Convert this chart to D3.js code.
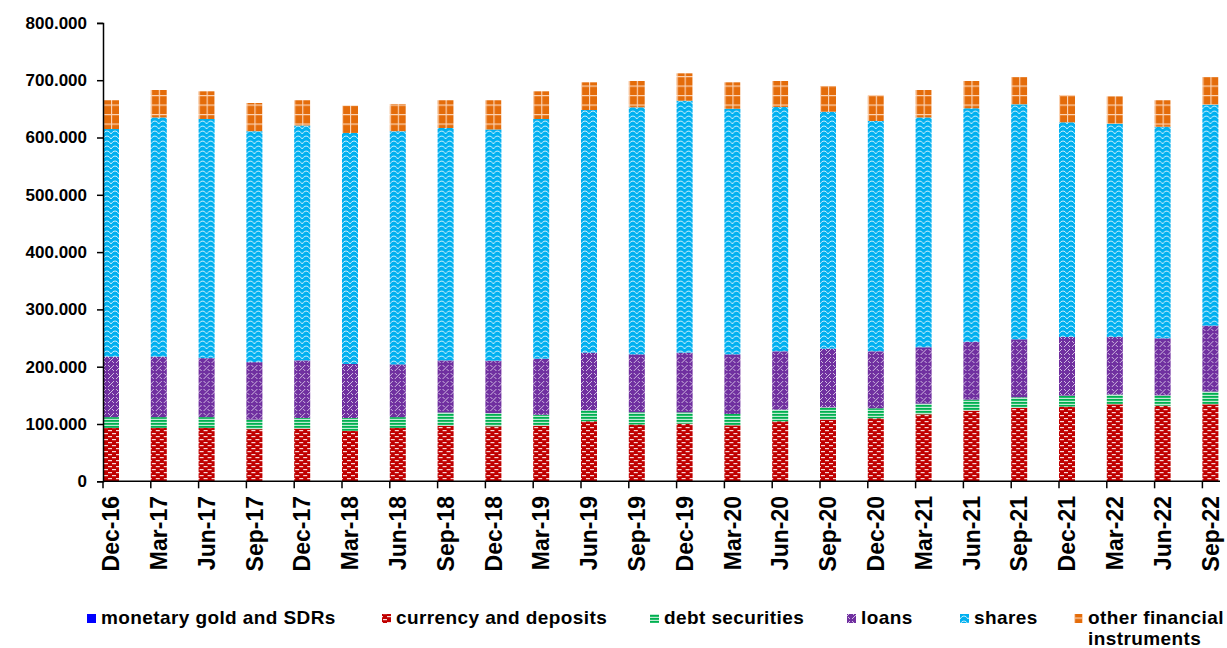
<!DOCTYPE html>
<html>
<head>
<meta charset="utf-8">
<script src="https://cdn.jsdelivr.net/npm/d3@7"></script>
<style>
  body { margin: 0; background: #fff; }
  text { font-family: "Liberation Sans", Arial, sans-serif; font-weight: bold; fill: #000; }
</style>
</head>
<body>
<svg width="1227" height="648"></svg>
<script>
// quarters on the x axis
var periods = ['Dec-16','Mar-17','Jun-17','Sep-17','Dec-17','Mar-18','Jun-18','Sep-18','Dec-18','Mar-19',
  'Jun-19','Sep-19','Dec-19','Mar-20','Jun-20','Sep-20','Dec-20','Mar-21','Jun-21','Sep-21',
  'Dec-21','Mar-22','Jun-22','Sep-22'];

// series values
var monetaryGold = [0,0,0,0,0,0,0,0,0,0,0,0,0,0,0,0,0,0,0,0,0,0,0,0];
var currency = [93000,93000,93000,91000,92000,88000,93000,97000,96000,97000,104700,99000,
  100600,97700,104700,107600,110000,117000,123300,128000,130300,134400,132000,134400];
var debt = [19000,19000,19000,16600,18500,22500,19000,23000,23000,19000,19300,21500,
  19800,19800,20300,21400,17400,18500,19200,18600,19200,16900,18000,22100];
var loans = [105500,105500,103000,100400,100500,94200,92000,91000,91500,98000,100600,101100,
  104100,104100,101900,102500,99500,98400,100700,101200,102400,100600,99600,115200];
var shares = [397300,417500,417300,403000,410000,403300,407000,405600,403500,418300,423400,431100,
  439700,428700,426300,413500,401900,401100,407800,410100,374600,372100,369200,385600];
var other = [50200,47900,48300,49200,44000,47500,47500,48400,51000,48300,48300,45900,
  47800,46000,45400,44900,45400,47900,47600,47700,47700,47900,46200,48300];

var seriesKeys = ['gold','currency','debt','loans','shares','other'];
var seriesNames = ['monetary gold and SDRs','currency and deposits','debt securities','loans','shares','other financial|instruments'];
var yTicks = [0,100000,200000,300000,400000,500000,600000,700000,800000];

function main() {
  var svg = d3.select('svg');
  var defs = svg.append('defs');

  // fill patterns, roughly like the office hatches
  function pattern(id, w, h, bg) {
    var p = defs.append('pattern').attr('id', id)
      .attr('patternUnits', 'userSpaceOnUse')
      .attr('width', w).attr('height', h);
    p.append('rect').attr('width', w).attr('height', h).attr('fill', bg);
    return p;
  }
  pattern('p-gold', 4, 4, '#0000ff');

  var pc = pattern('p-currency', 8, 6, '#c00000');
  pc.append('rect').attr('x', 1).attr('y', 1).attr('width', 4).attr('height', 1.2).attr('fill', '#fff').attr('opacity', 0.85);
  pc.append('rect').attr('x', 5).attr('y', 4).attr('width', 4).attr('height', 1.2).attr('fill', '#fff').attr('opacity', 0.85);
  pc.append('rect').attr('x', -3).attr('y', 4).attr('width', 4).attr('height', 1.2).attr('fill', '#fff').attr('opacity', 0.85);

  var pd = pattern('p-debt', 4, 3, '#00b050');
  pd.append('rect').attr('y', 1.8).attr('width', 4).attr('height', 1.2).attr('fill', '#fff').attr('opacity', 0.75);

  var pl = pattern('p-loans', 8, 8, '#7030a0');
  pl.append('path').attr('d', 'M0,8L3,5M5,3L8,0M1,1L3,3M5,5L7,7')
    .attr('stroke', '#fff').attr('stroke-width', 0.9).attr('opacity', 0.75).attr('fill', 'none');

  var ps = pattern('p-shares', 8, 5, '#00b0f0');
  ps.append('path').attr('d', 'M0,4L2,1.6L4,1L6,1.6L8,4')
    .attr('stroke', '#fff').attr('stroke-width', 0.9).attr('opacity', 0.85).attr('fill', 'none');

  var po = pattern('p-other', 8, 9.5, '#e46c0a');
  po.append('path').attr('d', 'M0.5,0V9.5M0,0.5H8')
    .attr('stroke', '#fbd3b4').attr('stroke-width', 1.3).attr('fill', 'none');

  var x = d3.scaleBand().domain(periods).range([103, 103 + 24 * 47.8]).padding(0);
  var y = d3.scaleLinear().domain([0, 800000]).range([481.3, 22.9]);
  var barW = 16;

  var fmt = d3.formatLocale({decimal: ',', thousands: '.', grouping: [3], currency: ['', '']}).format(',');

  var table = periods.map(function(p, i) {
    return {period: p, gold: monetaryGold[i], currency: currency[i], debt: debt[i],
      loans: loans[i], shares: shares[i], other: other[i]};
  });
  var stacked = d3.stack().keys(seriesKeys)(table);

  // bars, one group per quarter so the hatch lines up with each bar
  var cols = svg.append('g').selectAll('g.col')
    .data(table).enter().append('g')
    .attr('class', 'col')
    .attr('transform', function(d) { return 'translate(' + x(d.period) + ',0)'; });

  cols.each(function(d, i) {
    var g = d3.select(this);
    stacked.forEach(function(s) {
      var v = s[i];
      if (v[1] - v[0] <= 0) return;
      g.append('rect')
        .attr('x', 0).attr('width', barW)
        .attr('y', y(v[1])).attr('height', y(v[0]) - y(v[1]))
        .attr('fill', 'url(#p-' + s.key + ')');
    });
  });

  // y axis
  var yAxis = svg.append('g')
    .attr('transform', 'translate(103,0)')
    .call(d3.axisLeft(y).tickValues(yTicks).tickFormat(fmt).tickSize(6).tickPadding(10));
  yAxis.select('.domain').attr('stroke', '#000').attr('stroke-width', 1.5);
  yAxis.selectAll('.tick line').attr('stroke', '#000').attr('stroke-width', 1.5);
  yAxis.selectAll('.tick text').attr('font-size', 17).attr('font-family', '"Liberation Sans", Arial, sans-serif').attr('font-weight', 'bold');

  // x axis, ticks sit at the left edge of each band
  svg.append('line').attr('x1', 103).attr('x2', 1220).attr('y1', y(0)).attr('y2', y(0))
    .attr('stroke', '#000').attr('stroke-width', 1.5);
  svg.append('g').selectAll('line.xt')
    .data(periods).enter().append('line')
    .attr('x1', function(d) { return x(d); }).attr('x2', function(d) { return x(d); })
    .attr('y1', y(0)).attr('y2', y(0) + 7)
    .attr('stroke', '#000').attr('stroke-width', 1.5);
  svg.append('g').selectAll('text.xl')
    .data(periods).enter().append('text')
    .attr('transform', function(d) { return 'translate(' + (x(d) + barW / 2) + ',496) rotate(-90)'; })
    .attr('text-anchor', 'end')
    .attr('dy', '0.36em')
    .attr('font-size', 23)
    .text(function(d) { return d; });

  // legend
  var legendX = [87, 382, 650, 847, 960, 1074];
  var leg = svg.append('g').selectAll('g.leg')
    .data(seriesKeys).enter().append('g')
    .attr('transform', function(d, i) { return 'translate(' + legendX[i] + ',0)'; });
  leg.append('rect').attr('x', 0).attr('y', 614).attr('width', 9).attr('height', 9)
    .attr('fill', function(d) { return 'url(#p-' + d + ')'; });
  leg.each(function(d, i) {
    var lines = seriesNames[i].split('|');
    var t = d3.select(this).append('text').attr('x', 14).attr('y', 624)
      .attr('font-size', 19).attr('letter-spacing', 0.4);
    lines.forEach(function(l, j) {
      t.append('tspan').attr('x', 14).attr('dy', j ? 21 : 0).text(l);
    });
  });
}
main();
</script>
</body>
</html>
